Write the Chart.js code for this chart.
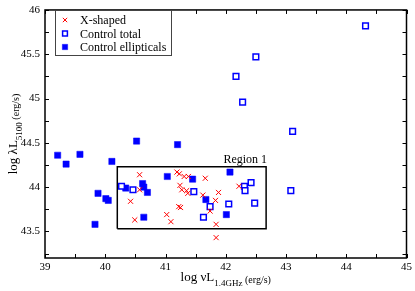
<!DOCTYPE html>
<html>
<head>
<meta charset="utf-8">
<script src="https://cdn.jsdelivr.net/npm/chart.js@4.4.1/dist/chart.umd.min.js"></script>
<style>
  html, body { margin: 0; padding: 0; background: #fff; }
</style>
</head>
<body>
<canvas id="chart" width="415" height="291"></canvas>
<script>
// values
const xShapedX = [41.19, 41.23, 41.31, 41.38, 41.66, 41.24, 41.27, 41.35, 41.37, 41.88, 41.62, 41.83, 41.74, 41.22, 41.25, 41.02, 41.09, 41.84, 41.84, 42.22, 40.57, 40.57, 40.42, 40.49]
const xShapedY = [44.17, 44.15, 44.12, 44.12, 44.10, 44.02, 43.97, 43.96, 43.93, 43.94, 43.91, 43.85, 43.73, 43.78, 43.77, 43.69, 43.61, 43.58, 43.43, 44.01, 44.14, 43.97, 43.84, 43.63]

const totalX = [44.32, 42.50, 42.17, 42.28, 43.11, 43.08, 42.42, 42.31, 42.32, 42.48, 42.05, 41.74, 41.63, 40.27, 40.46, 41.47]
const totalY = [45.82, 45.47, 45.25, 44.96, 44.63, 43.96, 44.05, 44.01, 43.96, 43.82, 43.81, 43.78, 43.66, 44.01, 43.97, 43.95]

const ellX = [39.21, 39.35, 39.58, 40.11, 39.88, 40.01, 40.05, 39.83, 40.34, 40.62, 40.64, 40.70, 40.64, 41.03, 41.45, 41.67, 42.07, 42.01, 40.52, 41.20]
const ellY = [44.36, 44.26, 44.37, 44.29, 43.93, 43.87, 43.85, 43.58, 43.99, 44.04, 44.00, 43.94, 43.66, 44.12, 44.09, 43.86, 44.17, 43.69, 44.52, 44.48]

const regionX = [40.2, 42.67]
const regionY = [43.53, 44.23]
const regionLabel = 'Region 1'

const seriesNames = ['X-shaped', 'Control total', 'Control ellipticals']
const xRange = [39, 45]
const yRange = [43.2, 46]

const SERIF = '"Liberation Serif", "DejaVu Serif", serif'

function pts(xs, ys) {
  return xs.map((x, i) => ({ x: x, y: ys[i] }))
}

const regionBox = [
  { x: regionX[0], y: regionY[0] },
  { x: regionX[1], y: regionY[0] },
  { x: regionX[1], y: regionY[1] },
  { x: regionX[0], y: regionY[1] },
  { x: regionX[0], y: regionY[0] }
]

const isStep = (v, s) => Math.abs(v / s - Math.round(v / s)) < 1e-6

// frame, inward ticks, legend, titles
const decor = {
  id: 'decor',
  afterDraw(chart) {
    const c = chart.ctx
    const a = chart.chartArea
    const xs = chart.scales.x
    const ys = chart.scales.y
    c.save()
    c.strokeStyle = '#000'
    c.lineWidth = 1
    // ticks
    for (let v = xRange[0]; v <= xRange[1] + 1e-9; v += 0.5) {
      const px = Math.round(xs.getPixelForValue(v)) + 0.5
      c.beginPath()
      c.moveTo(px, a.bottom); c.lineTo(px, a.bottom - 4)
      c.moveTo(px, a.top); c.lineTo(px, a.top + 4)
      c.stroke()
    }
    for (let v = 43.25; v <= yRange[1] + 1e-9; v += 0.25) {
      const py = Math.round(ys.getPixelForValue(v)) + 0.5
      c.beginPath()
      c.moveTo(a.left, py); c.lineTo(a.left + 4, py)
      c.moveTo(a.right, py); c.lineTo(a.right - 4, py)
      c.stroke()
    }
    // frame
    c.lineWidth = 1.5
    c.strokeRect(a.left, a.top, a.right - a.left, a.bottom - a.top)

    // region label
    c.fillStyle = '#000'
    c.font = '12px ' + SERIF
    c.textAlign = 'right'
    c.textBaseline = 'alphabetic'
    c.fillText(regionLabel, xs.getPixelForValue(regionX[1]) + 1, ys.getPixelForValue(regionY[1]) - 4)

    // legend
    c.fillStyle = '#fff'
    c.fillRect(55, 10, 116, 45)
    c.strokeStyle = '#444'
    c.lineWidth = 1
    c.strokeRect(55.5, 10.5, 116, 45)
    const rows = [20, 33.5, 47]
    chart.data.datasets.slice(0, 3).forEach((ds, i) => {
      c.save()
      c.strokeStyle = ds.borderColor
      c.fillStyle = ds.backgroundColor
      c.lineWidth = ds.borderWidth
      Chart.helpers.drawPoint(c, { pointStyle: ds.pointStyle, radius: ds.pointRadius * 0.85, rotation: 0, borderWidth: ds.borderWidth }, 65, rows[i])
      c.restore()
      c.fillStyle = '#000'
      c.font = '12px ' + SERIF
      c.textAlign = 'left'
      c.textBaseline = 'middle'
      c.fillText(ds.label, 80, rows[i] + 1)
    })

    // x title
    const cx = (a.left + a.right) / 2
    const p1 = 'log \u03bdL', p2 = '1.4GHz', p3 = ' (erg/s)'
    c.textBaseline = 'alphabetic'
    c.textAlign = 'left'
    c.font = '13px ' + SERIF
    const w1 = c.measureText(p1).width
    c.font = '9px ' + SERIF
    const w2 = c.measureText(p2).width
    c.font = '10px ' + SERIF
    const w3 = c.measureText(p3).width
    let x0 = cx - (w1 + w2 + w3) / 2
    c.font = '13px ' + SERIF
    c.fillText(p1, x0, 281)
    c.font = '9px ' + SERIF
    c.fillText(p2, x0 + w1, 286)
    c.font = '10px ' + SERIF
    c.fillText(p3, x0 + w1 + w2, 283)

    // y title
    const cy = (a.top + a.bottom) / 2
    const q1 = 'log \u03bbL', q2 = '5100', q3 = ' (erg/s)'
    c.translate(17, cy)
    c.rotate(-Math.PI / 2)
    c.font = '13px ' + SERIF
    const v1 = c.measureText(q1).width
    c.font = '9px ' + SERIF
    const v2 = c.measureText(q2).width
    c.font = '10px ' + SERIF
    const v3 = c.measureText(q3).width
    let y0 = -(v1 + v2 + v3) / 2
    c.font = '13px ' + SERIF
    c.fillText(q1, y0, 0)
    c.font = '9px ' + SERIF
    c.fillText(q2, y0 + v1, 5)
    c.font = '10px ' + SERIF
    c.fillText(q3, y0 + v1 + v2, 2)
    c.restore()
  }
}

const data = {
  datasets: [
    {
      label: seriesNames[0],
      data: pts(xShapedX, xShapedY),
      pointStyle: 'crossRot',
      pointRadius: 3.6,
      borderColor: '#ff0000',
      backgroundColor: '#ff0000',
      borderWidth: 1,
      order: 1
    },
    {
      label: seriesNames[1],
      data: pts(totalX, totalY),
      pointStyle: 'rect',
      pointRadius: 4,
      borderColor: '#0000ff',
      backgroundColor: '#ffffff',
      borderWidth: 1.5,
      order: 2
    },
    {
      label: seriesNames[2],
      data: pts(ellX, ellY),
      pointStyle: 'rect',
      pointRadius: 4.4,
      borderColor: '#0000ff',
      backgroundColor: '#0000ff',
      borderWidth: 0.5,
      order: 3
    },
    {
      label: regionLabel,
      data: regionBox,
      showLine: true,
      pointRadius: 0,
      borderColor: '#000',
      borderWidth: 1.5,
      order: 4
    }
  ]
}

const config = {
  type: 'scatter',
  data: data,
  options: {
    responsive: false,
    animation: false,
    devicePixelRatio: 1,
    layout: { padding: { top: 5, right: 7, left: 0, bottom: 0 } },
    plugins: { legend: { display: false }, tooltip: { enabled: false } },
    scales: {
      x: {
        min: xRange[0], max: xRange[1],
        afterFit(s) { s.height = 33 },
        grid: { display: false, drawTicks: false },
        border: { display: false },
        ticks: {
          stepSize: 0.5, padding: 3, color: '#000',
          font: { family: SERIF, size: 11 },
          maxRotation: 0, autoSkip: false,
          callback: v => isStep(v, 1) ? String(v) : ''
        }
      },
      y: {
        min: yRange[0], max: yRange[1],
        afterFit(s) { s.width = 45 },
        grid: { display: false, drawTicks: false },
        border: { display: false },
        ticks: {
          stepSize: 0.25, padding: 5, color: '#000',
          font: { family: SERIF, size: 11, lineHeight: 0.9 },
          autoSkip: false,
          callback: v => isStep(v, 0.5) ? String(v) : ''
        }
      }
    }
  },
  plugins: [decor]
}

const myChart = new Chart(document.getElementById('chart').getContext('2d'), config)
</script>
</body>
</html>
